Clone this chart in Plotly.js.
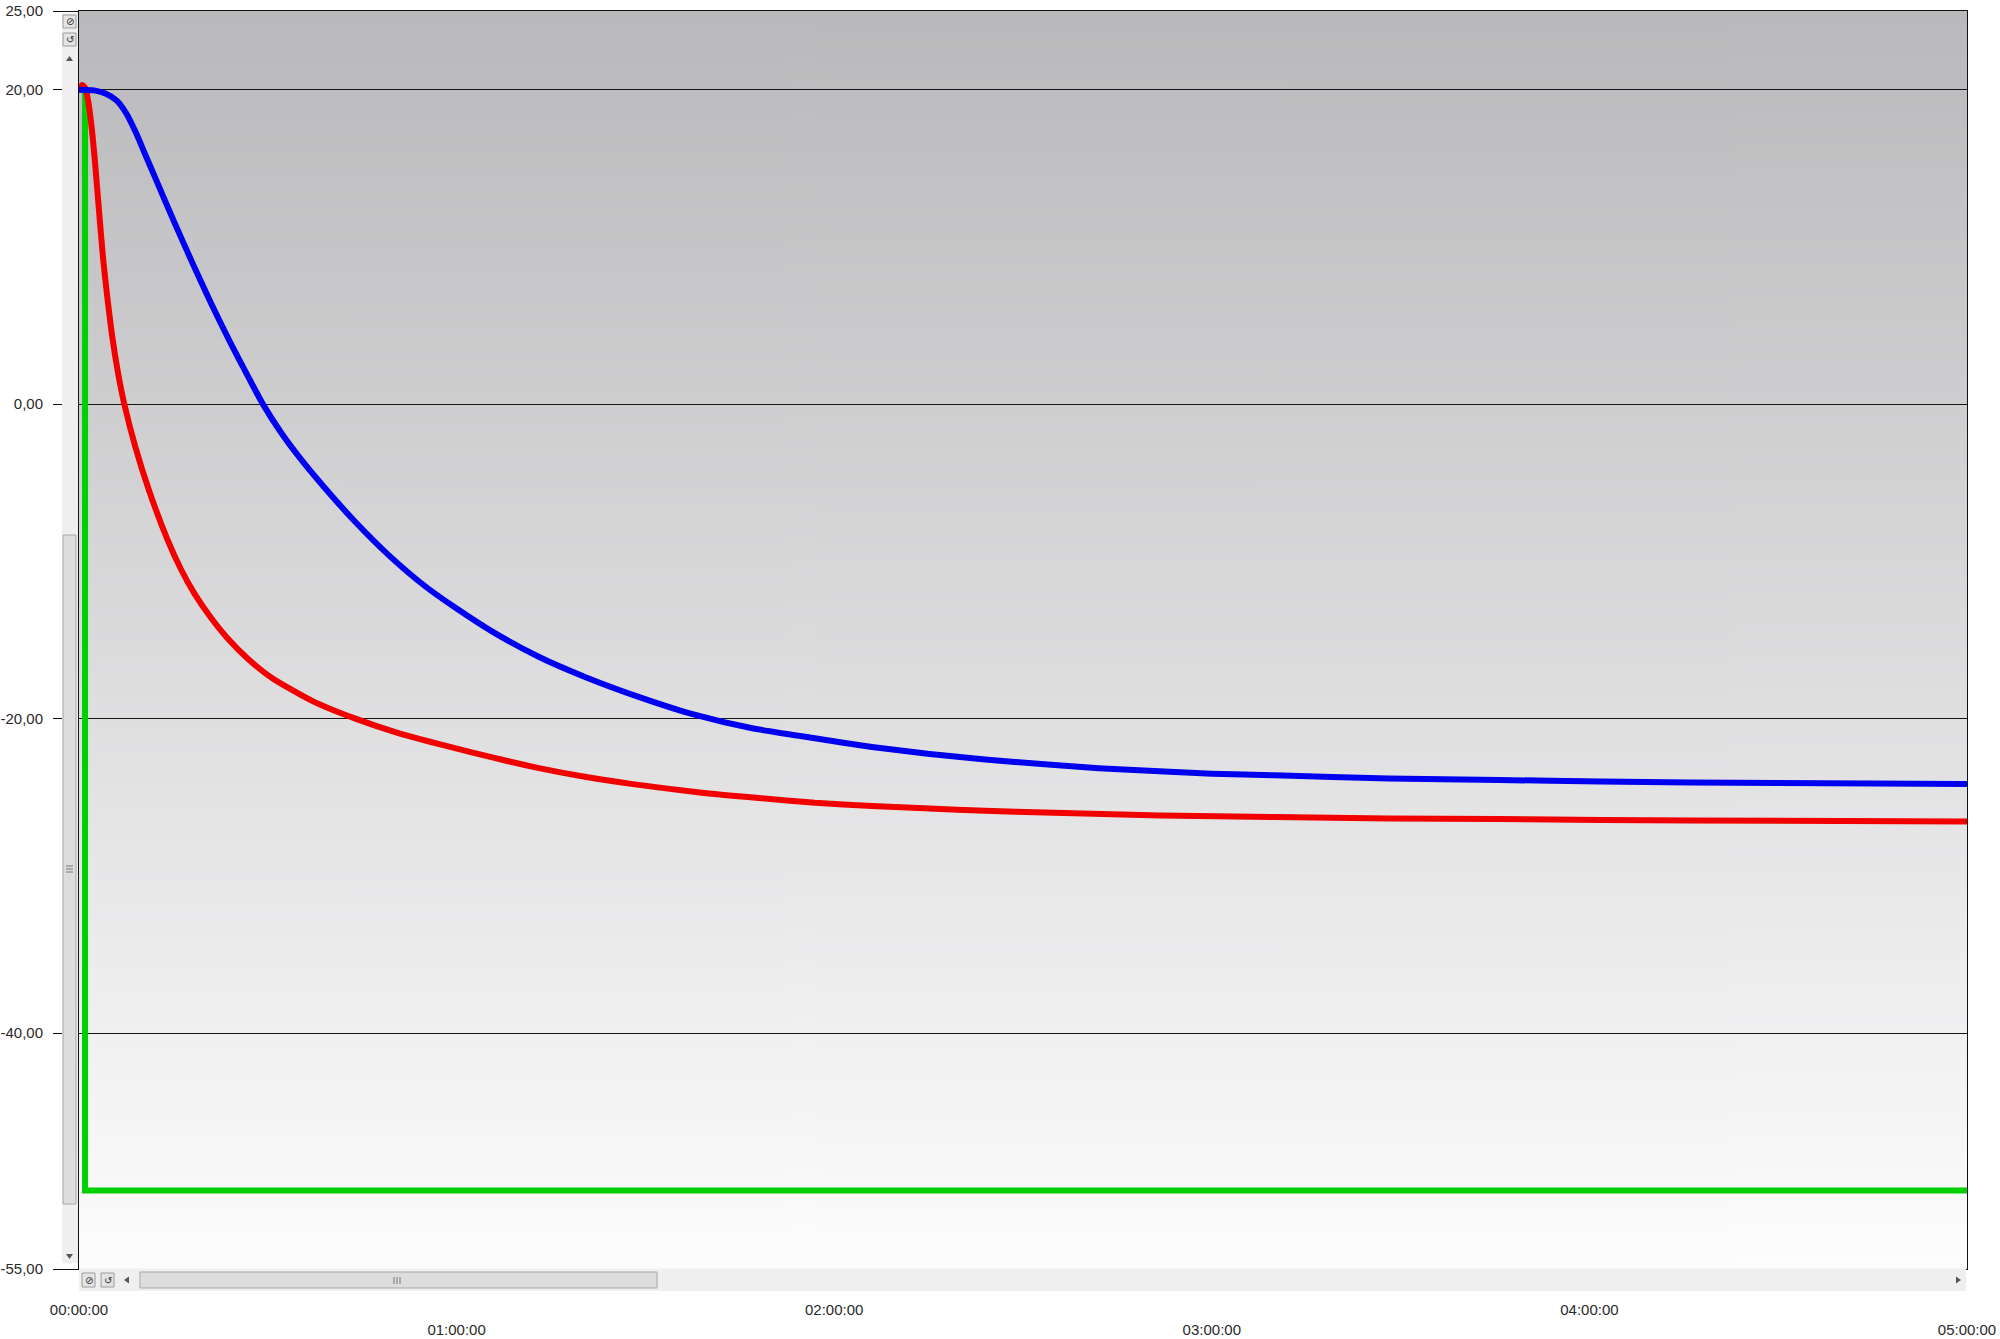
<!DOCTYPE html>
<html><head><meta charset="utf-8">
<script src="https://cdn.plot.ly/plotly-3.0.1.min.js"></script>
<style>html,body{margin:0;padding:0;background:#fff}</style>
</head><body><div id="chart" style="width:2000px;height:1339px"></div>
<script>
// ---- data (time in hours, value) ----
const redT = [0, 0.008, 0.016, 0.024, 0.033, 0.042, 0.053, 0.064, 0.075, 0.088, 0.104, 0.12, 0.149, 0.185, 0.234, 0.27, 0.307, 0.35, 0.392, 0.45, 0.513, 0.62, 0.732, 0.85, 0.975, 1.1, 1.218, 1.34, 1.462, 1.644, 1.8, 1.949, 2.1, 2.253, 2.4, 2.557, 2.861, 3.165, 3.469, 3.76, 4.03, 4.5, 5.0];
const redV = [20.0, 20.3, 20.1, 19.3, 17.7, 15.5, 12.3, 9.2, 6.8, 4.3, 1.9, 0.0, -2.7, -5.46, -8.6, -10.5, -12.1, -13.6, -14.85, -16.25, -17.45, -18.9, -20.0, -20.95, -21.75, -22.5, -23.15, -23.7, -24.15, -24.7, -25.05, -25.35, -25.55, -25.72, -25.86, -25.97, -26.16, -26.26, -26.35, -26.38, -26.45, -26.5, -26.55];
const blueT = [0, 0.04, 0.07, 0.1, 0.125, 0.15, 0.175, 0.2, 0.25, 0.3, 0.35, 0.4, 0.45, 0.487, 0.535, 0.586, 0.65, 0.732, 0.82, 0.915, 1.0, 1.097, 1.22, 1.34, 1.48, 1.63, 1.78, 1.949, 2.1, 2.253, 2.4, 2.557, 2.7, 2.861, 3.0, 3.165, 3.469, 3.76, 4.03, 4.5, 5.0];
const blueV = [20.0, 19.95, 19.75, 19.3, 18.5, 17.3, 15.9, 14.5, 11.7, 9.0, 6.4, 3.95, 1.65, 0.0, -1.8, -3.45, -5.3, -7.5, -9.6, -11.55, -13.0, -14.5, -16.1, -17.35, -18.6, -19.75, -20.6, -21.25, -21.8, -22.25, -22.6, -22.9, -23.15, -23.35, -23.5, -23.6, -23.8, -23.9, -24.0, -24.1, -24.15];
const greenT = [0, 0.016, 0.016, 5];
const greenV = [20, 20, -50, -50];

const yTickVals = [25, 20, 0, -20, -40, -55];
const yTickText = ['25,00', '20,00', '0,00', '-20,00', '-40,00', '-55,00'];
const yGridVals = [25, 20, 0, -20, -40];
const xTickValsUpper = [0, 2, 4];
const xTickTextUpper = ['00:00:00', '02:00:00', '04:00:00'];
const xTickValsLower = [1, 3, 5];
const xTickTextLower = ['01:00:00', '03:00:00', '05:00:00'];

// ---- font detection ----
function hasFont(name) {
  const c = document.createElement('canvas').getContext('2d');
  const s = '00:00:00 -55,00 abcdefgWM';
  c.font = '40px monospace';
  const a = c.measureText(s).width;
  c.font = '40px "' + name + '", monospace';
  const b = c.measureText(s).width;
  return Math.abs(a - b) > 0.5;
}
const narrow = hasFont('Liberation Sans Narrow');
const tickFont = narrow
  ? {family: '"Liberation Sans Narrow", "Liberation Sans", Arial, sans-serif', size: 18, color: '#2a2a2a'}
  : {family: '"Liberation Sans", Arial, sans-serif', size: 15, color: '#2a2a2a'};

// ---- background gradient ----
const cv = document.createElement('canvas');
cv.width = 4; cv.height = 512;
const g = cv.getContext('2d');
const grad = g.createLinearGradient(0, 0, 0, 512);
grad.addColorStop(0, 'rgb(185,185,187)');
grad.addColorStop(1, 'rgb(253,253,254)');
g.fillStyle = grad; g.fillRect(0, 0, 4, 512);
const bgUrl = cv.toDataURL('image/png');

// ---- plot geometry (pixels) for UI chrome ----
const L = 79, R = 1967, T = 11, B = 1269;
const W = R - L, H = B - T;
const px = x => (x - L) / W;
const py = y => (B - y) / H;
function rect(x0, y0, x1, y1, fill, line) {
  return {type: 'rect', xref: 'paper', yref: 'paper', layer: 'above',
    x0: px(x0), x1: px(x1), y0: py(y1), y1: py(y0),
    fillcolor: fill, line: line ? {color: line, width: 1} : {width: 0}};
}
function tri(pts, fill) {
  let p = 'M' + pts.map(q => px(q[0]) + ',' + py(q[1])).join('L') + 'Z';
  return {type: 'path', xref: 'paper', yref: 'paper', layer: 'above', path: p,
    fillcolor: fill, line: {width: 0}};
}
function seg(x0, y0, x1, y1, col) {
  return {type: 'line', xref: 'paper', yref: 'paper', layer: 'above',
    x0: px(x0), x1: px(x1), y0: py(y0), y1: py(y1), line: {color: col, width: 1}};
}
const shapes = [
  // vertical scrollbar (left)
  rect(62, 13, 78, 1263, '#efefef'),
  rect(63, 15, 76, 28, '#e3e3e3', '#9c9c9c'),
  rect(63, 33, 76, 46, '#e3e3e3', '#9c9c9c'),
  tri([[69.5, 56], [66, 61], [73, 61]], '#555'),
  rect(63, 535, 76, 1204, '#dddddd', '#a8a8a8'),
  seg(66, 866, 73, 866, '#777'), seg(66, 869, 73, 869, '#777'), seg(66, 872, 73, 872, '#777'),
  tri([[66, 1254], [73, 1254], [69.5, 1259]], '#555'),
  // horizontal scrollbar (bottom)
  rect(79, 1268.5, 1966, 1291, '#efefef'),
  rect(82, 1273, 95, 1287, '#e3e3e3', '#9c9c9c'),
  rect(101, 1273, 114, 1287, '#e3e3e3', '#9c9c9c'),
  tri([[124, 1280], [129, 1276.5], [129, 1283.5]], '#555'),
  rect(140, 1272, 657, 1288, '#dddddd', '#a8a8a8'),
  seg(394, 1277, 394, 1284, '#777'), seg(397, 1277, 397, 1284, '#777'), seg(400, 1277, 400, 1284, '#777'),
  tri([[1956, 1276.5], [1961, 1280], [1956, 1283.5]], '#555')
];
function icon(x, y, t) {
  return {xref: 'paper', yref: 'paper', x: px(x), y: py(y), text: t, showarrow: false,
    xanchor: 'center', yanchor: 'middle', font: {family: 'DejaVu Sans', size: 10, color: '#333'}};
}
const annotations = [
  icon(69.5, 21.5, '⊘'), icon(69.5, 39.5, '↺'),
  icon(88.5, 1280, '⊘'), icon(107.5, 1280, '↺')
];

const traces = [
  {x: greenT, y: greenV, type: 'scatter', mode: 'lines', line: {color: '#00d000', width: 6}, hoverinfo: 'skip'},
  {x: redT, y: redV, type: 'scatter', mode: 'lines', line: {color: '#f20000', width: 6, shape: 'spline', smoothing: 0.6}, hoverinfo: 'skip'},
  {x: blueT, y: blueV, type: 'scatter', mode: 'lines', line: {color: '#0000f0', width: 6, shape: 'spline', smoothing: 0.6}, hoverinfo: 'skip'},
  {x: [], y: [], xaxis: 'x2', yaxis: 'y2', type: 'scatter', mode: 'lines', hoverinfo: 'skip'}
];

const layout = {
  width: 2000, height: 1339,
  margin: {l: L, r: 2000 - R, t: T, b: 1339 - B, pad: 0},
  paper_bgcolor: '#ffffff', plot_bgcolor: 'rgba(0,0,0,0)',
  showlegend: false,
  font: tickFont,
  images: [{source: bgUrl, xref: 'paper', yref: 'paper', x: 0, y: 1, sizex: 1, sizey: 1,
    sizing: 'stretch', xanchor: 'left', yanchor: 'top', layer: 'below'}],
  xaxis: {range: [0, 5], tickmode: 'array', tickvals: xTickValsUpper, ticktext: xTickTextUpper,
    ticks: '', showgrid: false, zeroline: false, showline: true, mirror: true, linecolor: '#111', linewidth: 1,
    ticklabelstandoff: 27, tickfont: tickFont, automargin: false, fixedrange: true},
  xaxis2: {range: [0, 5], overlaying: 'x', anchor: 'y2', side: 'bottom', tickmode: 'array',
    tickvals: xTickValsLower, ticktext: xTickTextLower, ticks: '', showgrid: false, zeroline: false,
    showline: false, ticklabelstandoff: 50, tickfont: tickFont, automargin: false, fixedrange: true},
  yaxis: {range: [-55, 25], tickmode: 'array', tickvals: yTickVals, ticktext: yTickText,
    ticks: 'outside', ticklen: 25, tickcolor: '#111', tickwidth: 1, showgrid: false, zeroline: false,
    showline: true, mirror: true, linecolor: '#111', linewidth: 1, ticklabelstandoff: 7,
    tickfont: tickFont, automargin: false, fixedrange: true},
  yaxis2: {range: [-55, 25], overlaying: 'y', anchor: 'x2', side: 'left', tickmode: 'array',
    tickvals: yGridVals, showticklabels: false, ticks: '', showgrid: true, gridcolor: '#151515',
    gridwidth: 1, zeroline: false, showline: false, automargin: false, fixedrange: true},
  shapes: shapes,
  annotations: annotations
};
Plotly.newPlot('chart', traces, layout, {displayModeBar: false, staticPlot: true});
</script></body></html>
